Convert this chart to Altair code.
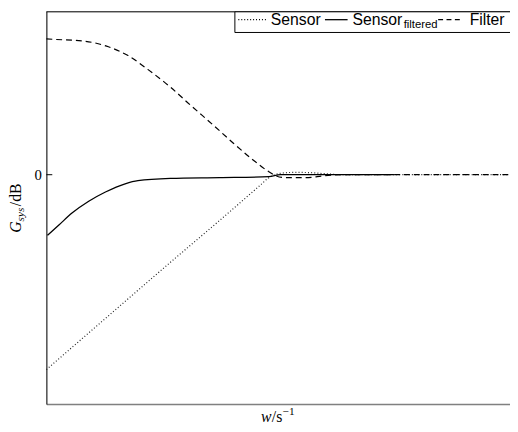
import altair as alt
import pandas as pd

# ---- data (x in plot units, y in dB units) ----
sensor_x = [0, 60, 126, 180, 218, 226, 233, 243, 253, 270, 283, 303, 470]
sensor_y = [-49.5, -36.5, -22.25, -10.75, -2.5, -0.75, 0.1, 0.5, 0.6, 0.5, 0.25, 0, 0]

filtered_x = [1, 13, 26, 43, 60, 80, 93, 126, 176, 226, 238, 260, 353]
filtered_y = [-15.4, -12.7, -9.75, -6.75, -4.4, -2.3, -1.5, -0.95, -0.75, -0.5, 0, 0, 0]

filter_x = [0, 6, 36, 63, 83, 103, 126, 146, 170, 190, 210, 226, 233, 243, 263, 283, 303, 470]
filter_y = [34.5, 34.4, 34, 32.5, 30.25, 26.75, 22.25, 17.75, 12.5, 8.0, 3.75, 0.75, -0.25, -0.75, -0.75, -0.25, 0, 0]

y_ticks = [0]
x_domain = [0, 471]
y_domain = [-58.25, 41.5]

SERIF = "Liberation Serif"
SANS = "Liberation Sans"

xs = alt.Scale(domain=x_domain, nice=False, zero=False)
ys = alt.Scale(domain=y_domain, nice=False, zero=False)

x_enc = alt.X("x:Q", scale=xs,
              axis=alt.Axis(title=None, labels=False, ticks=False, grid=False,
                            domainColor="#808080", domainWidth=1.6))
y_enc = alt.Y("y:Q", scale=ys,
              axis=alt.Axis(title=None, values=y_ticks, ticks=False, grid=False,
                            domainColor="black", domainWidth=1,
                            labelFont=SERIF, labelFontSize=15, labelColor="black",
                            labelPadding=5))

def series(xv, yv):
    return pd.DataFrame({"x": xv, "y": yv})

one = pd.DataFrame({"a": [0]})

sensor = alt.Chart(series(sensor_x, sensor_y)).mark_line(
    color="#222", strokeWidth=1.2, strokeDash=[1, 2.2], interpolate="monotone"
).encode(x=x_enc, y=y_enc)

filtered = alt.Chart(series(filtered_x, filtered_y)).mark_line(
    color="black", strokeWidth=1.3, interpolate="monotone"
).encode(x="x:Q", y="y:Q")

filt = alt.Chart(series(filter_x, filter_y)).mark_line(
    color="black", strokeWidth=1.2, strokeDash=[6, 4], interpolate="monotone"
).encode(x="x:Q", y="y:Q")

# top frame line and inward tick at 0
top_line = alt.Chart(one).mark_rule(color="black", strokeWidth=1).encode(
    x=alt.value(0), x2=alt.value(471), y=alt.value(0.5))
tick0 = alt.Chart(pd.DataFrame({"y": y_ticks})).mark_rule(color="black", strokeWidth=1).encode(
    x=alt.value(0), x2=alt.value(6), y="y:Q")

# legend
box = alt.Chart(one).mark_rect(fill="white", stroke="black", strokeWidth=1).encode(
    x=alt.value(191.5), x2=alt.value(500), y=alt.value(0.5), y2=alt.value(21.5))

def sample(x1, x2, dash, width=1.2):
    kw = dict(color="black", strokeWidth=width)
    if dash:
        kw["strokeDash"] = dash
    return alt.Chart(one).mark_rule(**kw).encode(
        x=alt.value(x1), x2=alt.value(x2), y=alt.value(8.5))

def txt(x, y, s, font, size, italic=False, angle=None, align="left"):
    kw = dict(font=font, fontSize=size, color="black", align=align, baseline="alphabetic")
    if italic:
        kw["fontStyle"] = "italic"
    if angle is not None:
        kw["angle"] = angle
    return alt.Chart(one).mark_text(**kw).encode(
        x=alt.value(x), y=alt.value(y), text=alt.value(s))

legend = [
    box,
    sample(195, 225, [1, 2]),
    txt(228, 14, "Sensor", SANS, 16),
    sample(283, 306, None, 1.3),
    txt(311, 14, "Sensor", SANS, 16),
    txt(363, 16.5, "filtered", SANS, 11.5),
    sample(398, 423, [5, 3.5]),
    txt(430, 14, "Filter", SANS, 16),
]

# axis titles
titles = [
    txt(-26, 225, "G", SERIF, 16, italic=True, angle=270),
    txt(-22.5, 213.5, "sys", SERIF, 11.5, italic=True, angle=270),
    txt(-26, 198, "/dB", SERIF, 16, angle=270),
    txt(218, 417, "w", SERIF, 16, italic=True),
    txt(229, 417, "/s", SERIF, 16),
    txt(240, 410, "−1", SERIF, 11.5),
]

chart = alt.layer(sensor, filtered, filt, top_line, tick0, *legend, *titles).properties(
    width=471, height=399,
    autosize=alt.AutoSizeParams(type="none"),
    padding={"left": 39, "top": 0, "right": 0, "bottom": 24},
).configure_view(stroke=None).configure(background="white")

chart.save("out.html", embed_options={"renderer": "svg", "actions": False})
